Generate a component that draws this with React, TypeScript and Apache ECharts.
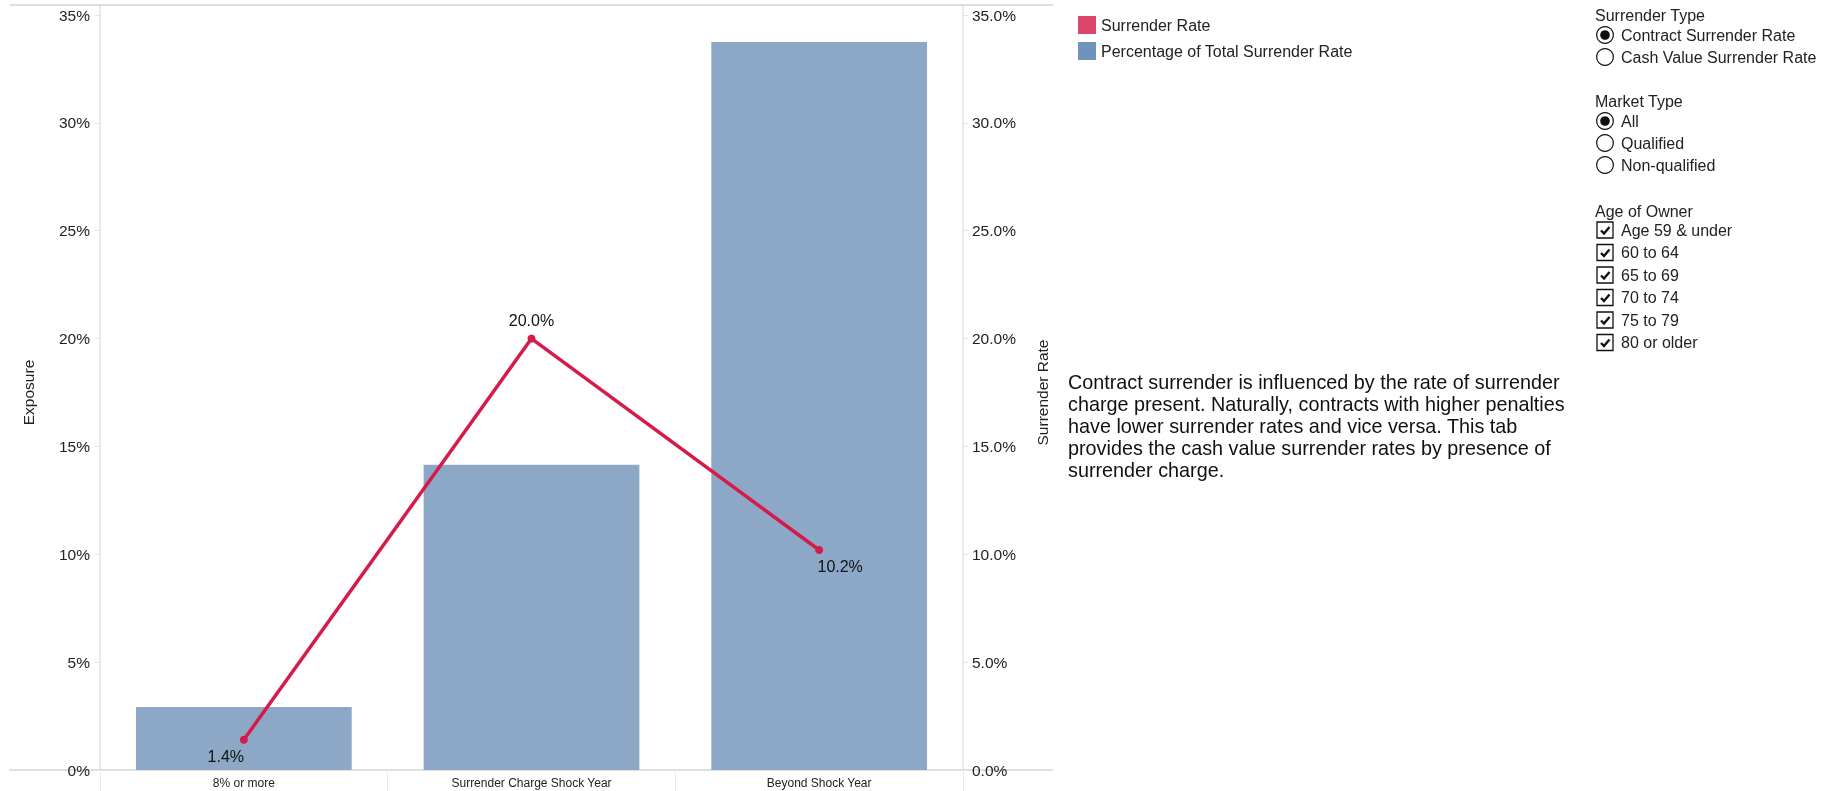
import React, { useEffect, useRef } from "react";
import * as echarts from "echarts";

const categories = ["8% or more", "Surrender Charge Shock Year", "Beyond Shock Year"];
const exposure = [2.92, 14.15, 33.75];
const surrenderRate = [1.4, 20.0, 10.2];
const axisTicks = [0, 5, 10, 15, 20, 25, 30, 35];
const legendNames = ["Surrender Rate", "Percentage of Total Surrender Rate"];
const surrenderTypes = ["Contract Surrender Rate", "Cash Value Surrender Rate"];
const marketTypes = ["All", "Qualified", "Non-qualified"];
const ageGroups = ["Age 59 & under", "60 to 64", "65 to 69", "70 to 74", "75 to 79", "80 or older"];
const description = [
  "Contract surrender is influenced by the rate of surrender",
  "charge present. Naturally, contracts with higher penalties",
  "have lower surrender rates and vice versa. This tab",
  "provides the cash value surrender rates by presence of",
  "surrender charge.",
];

const FONT = "'Liberation Sans', Arial, Helvetica, sans-serif";
const TXT = "#222";
const RED = "#D61A4A";
const BLUE = "#6F93BA";
const BAR = "#8DA8C6";
const AXIS = "#d4d4d4";

function radioGroup(title: string, items: string[], selected: number, top: number, step: number) {
  const els: any[] = [
    { type: "text", x: 1595, y: top, style: { text: title, font: `16px ${FONT}`, fill: TXT, verticalAlign: "middle" } },
  ];
  items.forEach((t, i) => {
    const cy = top + 20 + i * step;
    els.push({ type: "circle", shape: { cx: 1605, cy, r: 8.3 }, style: { fill: "#fff", stroke: "#111", lineWidth: 1.2 } });
    if (i === selected) {
      els.push({ type: "circle", shape: { cx: 1605, cy, r: 4.8 }, style: { fill: "#111" } });
    }
    els.push({ type: "text", x: 1621, y: cy, style: { text: t, font: `16px ${FONT}`, fill: TXT, verticalAlign: "middle" } });
  });
  return els;
}

function checkGroup(title: string, items: string[], top: number, step: number) {
  const els: any[] = [
    { type: "text", x: 1595, y: top, style: { text: title, font: `16px ${FONT}`, fill: TXT, verticalAlign: "middle" } },
  ];
  items.forEach((t, i) => {
    const cy = top + 19 + i * step;
    els.push({ type: "rect", shape: { x: 1597, y: cy - 8, width: 16, height: 16 }, style: { fill: "#fff", stroke: "#111", lineWidth: 1.3 } });
    els.push({
      type: "polyline",
      shape: { points: [[1601, cy + 0.5], [1604, cy + 3.5], [1609.5, cy - 3]] },
      style: { stroke: "#111", lineWidth: 2.4, fill: null },
    });
    els.push({ type: "text", x: 1621, y: cy, style: { text: t, font: `16px ${FONT}`, fill: TXT, verticalAlign: "middle" } });
  });
  return els;
}

export default function App() {
  const ref = useRef<HTMLDivElement>(null);
  useEffect(() => {
    if (!ref.current) return;
    const chart = echarts.init(ref.current, null, { renderer: "svg" });
    const labelOffsets: any[] = [
      { position: "bottom", distance: 5, offset: [-18, 0] },
      { position: "top", distance: 6, offset: [0, 0] },
      { position: "bottom", distance: 5, offset: [21, 0] },
    ];
    const graphic: any[] = [
      { type: "line", shape: { x1: 10, y1: 5, x2: 1053, y2: 5 }, style: { stroke: AXIS, lineWidth: 1.5 } },
      { type: "line", shape: { x1: 9, y1: 770, x2: 1053, y2: 770 }, style: { stroke: AXIS, lineWidth: 1.5 } },
      { type: "line", shape: { x1: 100, y1: 5, x2: 100, y2: 770 }, style: { stroke: AXIS, lineWidth: 1 } },
      { type: "line", shape: { x1: 963, y1: 5, x2: 963, y2: 770 }, style: { stroke: AXIS, lineWidth: 1 } },
      {
        type: "text",
        x: 1068,
        y: 371,
        style: { text: description.join("\n"), font: `19.8px ${FONT}`, fill: "#111", lineHeight: 22 },
      },
      ...radioGroup("Surrender Type", surrenderTypes, 0, 15, 22),
      ...radioGroup("Market Type", marketTypes, 0, 101, 22),
      ...checkGroup("Age of Owner", ageGroups, 211, 22.5),
    ];
    chart.setOption({
      animation: false,
      textStyle: { fontFamily: FONT },
      legend: {
        orient: "vertical",
        left: 1073,
        top: 11,
        itemWidth: 18,
        itemHeight: 18,
        itemGap: 8,
        icon: "rect",
        textStyle: { fontSize: 16, color: TXT, fontFamily: FONT },
        data: [
          { name: legendNames[0], itemStyle: { color: "#DC476C" } },
          { name: legendNames[1], itemStyle: { color: BLUE } },
        ],
      },
      grid: { left: 100, right: 872, top: 15, bottom: 21, containLabel: false },
      xAxis: {
        type: "category",
        data: categories,
        axisLine: { show: false },
        axisTick: { show: true, length: 21, lineStyle: { color: "#ececec" } },
        axisLabel: { fontSize: 12, color: TXT, margin: 7, fontFamily: FONT },
      },
      yAxis: [
        {
          type: "value",
          min: axisTicks[0],
          max: axisTicks[axisTicks.length - 1],
          interval: 5,
          name: "Exposure",
          nameLocation: "middle",
          nameRotate: 90,
          nameGap: 64,
          nameTextStyle: { fontSize: 15.5, color: TXT, fontFamily: FONT },
          axisLine: { show: false },
          axisTick: { show: true, length: 5, lineStyle: { color: "#e4e4e4" } },
          splitLine: { show: false },
          axisLabel: { formatter: (v: number) => `${v}%`, fontSize: 15.5, color: TXT, margin: 10, fontFamily: FONT },
        },
        {
          type: "value",
          position: "right",
          min: axisTicks[0],
          max: axisTicks[axisTicks.length - 1],
          interval: 5,
          name: "Surrender Rate",
          nameLocation: "middle",
          nameRotate: 90,
          nameGap: 71,
          nameTextStyle: { fontSize: 15.5, color: TXT, fontFamily: FONT },
          axisLine: { show: false },
          axisTick: { show: true, length: 5, inside: false, lineStyle: { color: "#e4e4e4" } },
          splitLine: { show: false },
          axisLabel: { formatter: (v: number) => `${v.toFixed(1)}%`, fontSize: 15.5, color: TXT, margin: 9, fontFamily: FONT },
        },
      ],
      series: [
        {
          name: legendNames[1],
          type: "bar",
          yAxisIndex: 0,
          data: exposure,
          barCategoryGap: "25%",
          itemStyle: { color: BAR },
          z: 1,
        },
        {
          name: legendNames[0],
          type: "line",
          yAxisIndex: 1,
          data: surrenderRate.map((v, i) => ({
            value: v,
            label: {
              show: true,
              position: labelOffsets[i].position,
              distance: labelOffsets[i].distance,
              offset: labelOffsets[i].offset,
              formatter: (p: any) => `${Number(p.value).toFixed(1)}%`,
              fontSize: 16,
              color: "#111",
              fontFamily: FONT,
            },
          })),
          symbol: "circle",
          symbolSize: 8,
          lineStyle: { color: RED, width: 3.5 },
          itemStyle: { color: RED },
          z: 3,
        },
      ],
      graphic,
    });
    return () => chart.dispose();
  }, []);
  return <div ref={ref} style={{ position: "fixed", left: 0, top: 0, width: 1835, height: 791 }} />;
}
